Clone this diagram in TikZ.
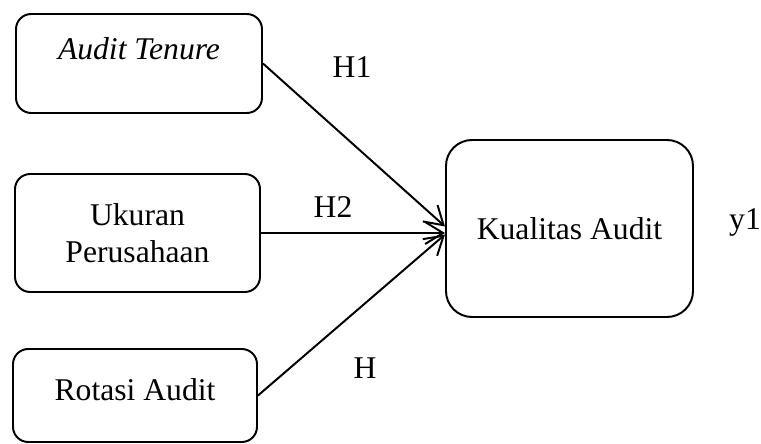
\documentclass[tikz,border=0pt]{standalone}
\usepackage{fontspec}
\setmainfont{Liberation Serif}
\usetikzlibrary{arrows.meta}

\begin{document}
\begin{tikzpicture}[
    >={Straight Barb[length=4.5mm,width=5.5mm]}, % Open barb arrow tips
    varbox/.style={draw, line width=1.4pt, rounded corners=0.38cm, align=center,
        font=\fontsize{22.5}{26.3}\selectfont}, % Style for variable boxes
    hlabel/.style={font=\fontsize{22.5}{26.3}\selectfont}, % Style for labels
    link/.style={->, line width=1.4pt} % Style for arrows
]

    % Fix the size of the picture
    \useasboundingbox (0,0) rectangle (19.025,11.075);

    % Independent variables
    \node[varbox, minimum width=6.15cm, minimum height=2.475cm,
        text height=0.53cm, text depth=0.75cm] (tenure) at (3.475,9.4875) {\textit{Audit Tenure}};
    \node[varbox, minimum width=6.125cm, minimum height=2.95cm] (ukuran) at (3.4375,5.25) {Ukuran\\Perusahaan};
    \node[varbox, minimum width=6.1cm, minimum height=2.325cm,
        text height=0.53cm, text depth=0.3cm] (rotasi) at (3.375,1.1875) {Rotasi Audit};

    % Dependent variable
    \node[varbox, rounded corners=0.65cm, minimum width=6.175cm, minimum height=4.425cm] (kualitas) at (14.2375,5.3625) {Kualitas Audit};

    % Hypothesis arrows
    \draw[link] (tenure.east) -- ([yshift=0.05cm]kualitas.west);
    \draw[link] (ukuran.east) -- (ukuran.east -| kualitas.west);
    \draw[link] (rotasi.east) -- ([yshift=-0.15cm]kualitas.west);

    % Labels
    \node[hlabel] (h1) at (8.8,9.4) {H1};
    \node[hlabel] (h2) at (8.325,5.9) {H2};
    \node[hlabel] (h3) at (9.125,1.875) {H};
    \node[hlabel] (y1) at (18.625,5.525) {y1};

\end{tikzpicture}
\end{document}
